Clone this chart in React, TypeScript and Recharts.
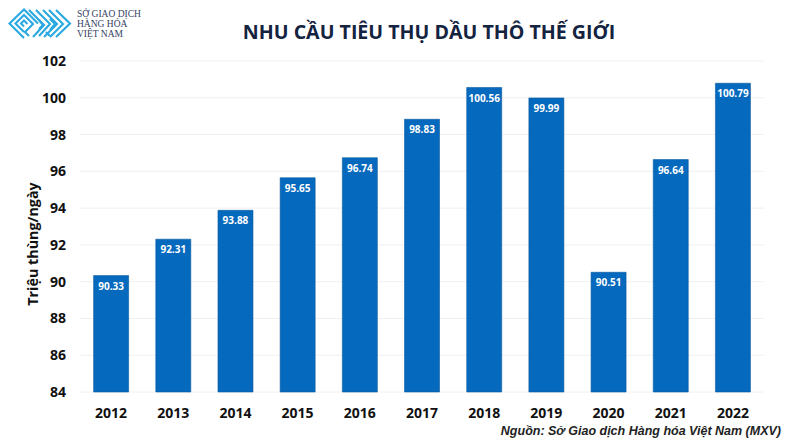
import React from "react";
import { BarChart, Bar, XAxis, YAxis, CartesianGrid, LabelList } from "recharts";

const years = ["2012","2013","2014","2015","2016","2017","2018","2019","2020","2021","2022"];
const demand = [90.33,92.31,93.88,95.65,96.74,98.83,100.56,99.99,90.51,96.64,100.79];
const yTicks = [84,86,88,90,92,94,96,98,100,102];
const rows = years.map((year, i) => ({ year, demand: demand[i] }));
const FONT = "'Open Sans', Roboto, sans-serif";

function Logo() {
  const s = { fill: "none", stroke: "#29a9e0", strokeWidth: 2.1 };
  return (
    <svg width={80} height={44} style={{ position: "absolute", left: 0, top: 0 }}>
      <polyline {...s} points="24,38 9.5,23.5 24,9.5 38,23.5" />
      <polyline {...s} points="24,32 15.5,23.5 24,15 33,24 25,32 29,36" />
      <polyline {...s} points="24,26.5 21,23.5 24,20.5 27.5,24" />
      <polyline {...s} points="29,10 44,25 33,37" />
      <polyline {...s} points="36,10 50,24 39,36" />
      <polyline {...s} points="39,29 43,25 39,20" />
      <polyline {...s} points="43,10 57,24 44,37" />
      <polyline {...s} points="49,10 63,24 50,37" />
      <polyline {...s} points="56,10 70,23.5 56,37" />
      <line {...s} x1={46} y1={32} x2={50} y2={36} />
      <polyline {...s} points="50,30 55,24 50,19" />
    </svg>
  );
}

export default function App() {
  return (
    <div style={{ position: "absolute", left: 0, top: 0, width: 790, height: 444, background: "#fff", overflow: "hidden" }}>
      <BarChart width={790} height={444} data={rows} margin={{ top: 61, right: 26, bottom: 22, left: 36 }} barCategoryGap="21.9%">
        <CartesianGrid vertical={false} stroke="#f0f0f0" strokeWidth={1} />
        <XAxis dataKey="year" axisLine={false} tickLine={false} tickMargin={10} interval={0}
          tick={{ fontFamily: FONT, fontSize: 14, fontWeight: 700, fill: "#111" }} />
        <YAxis width={44} domain={[84, 102]} ticks={yTicks} axisLine={false} tickLine={false} tickMargin={8}
          tick={{ fontFamily: FONT, fontSize: 14, fontWeight: 700, fill: "#111" }} />
        <Bar dataKey="demand" fill="#0569bd" stroke="#0a5a9e" strokeWidth={0.6} isAnimationActive={false}>
          <LabelList dataKey="demand" position="insideTop" offset={7} formatter={(v: number) => v.toFixed(2)}
            style={{ fontFamily: FONT, fontSize: 10, fontWeight: 700, fill: "#fff" }} />
        </Bar>
      </BarChart>
      <Logo />
      <div style={{ position: "absolute", left: 77, top: 9, fontFamily: "'Liberation Serif', serif", fontSize: 9.5, lineHeight: "10px", color: "#34405f", whiteSpace: "nowrap" }}>
        SỞ GIAO DỊCH<br />HÀNG HÓA<br />VIỆT NAM
      </div>
      <div style={{ position: "absolute", left: 129, width: 600, top: 18, textAlign: "center", fontFamily: FONT, fontSize: 19.6, fontWeight: 700, color: "#14233f", whiteSpace: "nowrap" }}>
        NHU CẦU TIÊU THỤ DẦU THÔ THẾ GIỚI
      </div>
      <div style={{ position: "absolute", left: 32, top: 244, width: 0, height: 0 }}>
        <div style={{ position: "absolute", transform: "translate(-50%,-50%) rotate(-90deg)", fontFamily: FONT, fontSize: 14.3, fontWeight: 700, color: "#111", whiteSpace: "nowrap", left: 0 }}>
          Triệu thùng/ngày
        </div>
      </div>
      <div style={{ position: "absolute", right: 9, top: 424, fontFamily: "'Liberation Sans', Arial, sans-serif", fontSize: 12.5, fontWeight: 700, fontStyle: "italic", color: "#222", whiteSpace: "nowrap" }}>
        Nguồn: Sở Giao dịch Hàng hóa Việt Nam (MXV)
      </div>
    </div>
  );
}
